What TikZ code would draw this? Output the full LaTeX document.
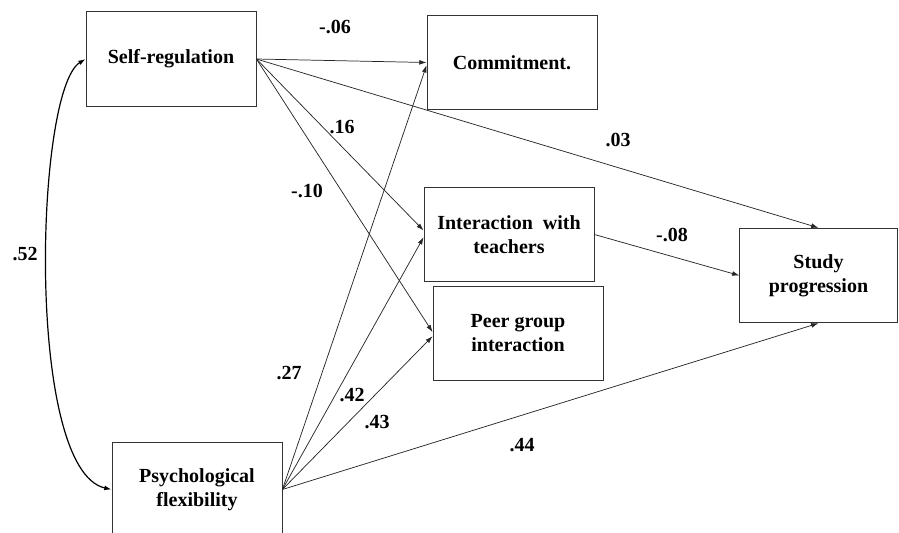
\documentclass[tikz,border=0pt]{standalone}
\usepackage{fontspec}
\setmainfont{Liberation Serif}
\usetikzlibrary{arrows.meta}
\tikzset{>={Latex[width=3.6pt,length=5.5pt]}}
\tikzset{
  var/.style={draw=black!80, line width=0.6pt, minimum width=127.5pt,
    minimum height=71pt, inner sep=0pt, align=center,
    font=\fontsize{15}{18}\selectfont\bfseries},
  path/.style={->, draw=black!85, line width=0.55pt},
  coef/.style={font=\fontsize{15}{18}\selectfont\bfseries, inner sep=0pt}
}

\begin{document}
\begin{tikzpicture}[x=0.75pt, y=-0.75pt]

  \useasboundingbox (0,0) rectangle (899,532);

  %% variables
  \node[var] (sreg) at (171, 59) {Self-regulation};
  \node[var] (comm) at (512, 62.5) {Commitment.};
  \node[var] (inter) at (509, 234.5) {Interaction\ \ with\\teachers};
  \node[var] (peer) at (518, 333.5) {Peer group\\interaction};
  \node[var, minimum width=118pt] (study) at (818.5, 275.5) {Study\\progression};
  \node[var] (psy) at (197, 489.5) {Psychological\\flexibility};

  %% paths
  \draw[path] (sreg.east) -- (comm.west);
  \draw[path] (sreg.east) -- ([yshift=3pt]inter.west);
  \draw[path] (sreg.east) -- ([yshift=1pt]peer.west);
  \draw[path] (sreg.east) -- (study.north);
  \draw[path] (psy.east) -- ([yshift=-2pt]comm.west);
  \draw[path] (psy.east) -- ([yshift=-2pt]inter.west);
  \draw[path] (psy.east) -- ([yshift=-2pt]peer.west);
  \draw[path] (psy.east) -- (study.south);
  \draw[path] (inter.east) -- (study.west);

  %% correlation
  \draw[<->, line width=0.9pt] (sreg.west) .. controls (35,90) and (25,470) .. (psy.west);

  %% coefficients
  \node[coef] (c52) at (25, 254) {.52};
  \node[coef] (c06) at (335, 27) {-.06};
  \node[coef] (c16) at (342, 127) {.16};
  \node[coef] (c10) at (307, 191) {-.10};
  \node[coef] (c03) at (618, 140) {.03};
  \node[coef] (c08) at (672, 235) {-.08};
  \node[coef] (c27) at (289, 373) {.27};
  \node[coef] (c42) at (352, 395) {.42};
  \node[coef] (c43) at (377, 422) {.43};
  \node[coef] (c44) at (522, 445) {.44};

\end{tikzpicture}
\end{document}
